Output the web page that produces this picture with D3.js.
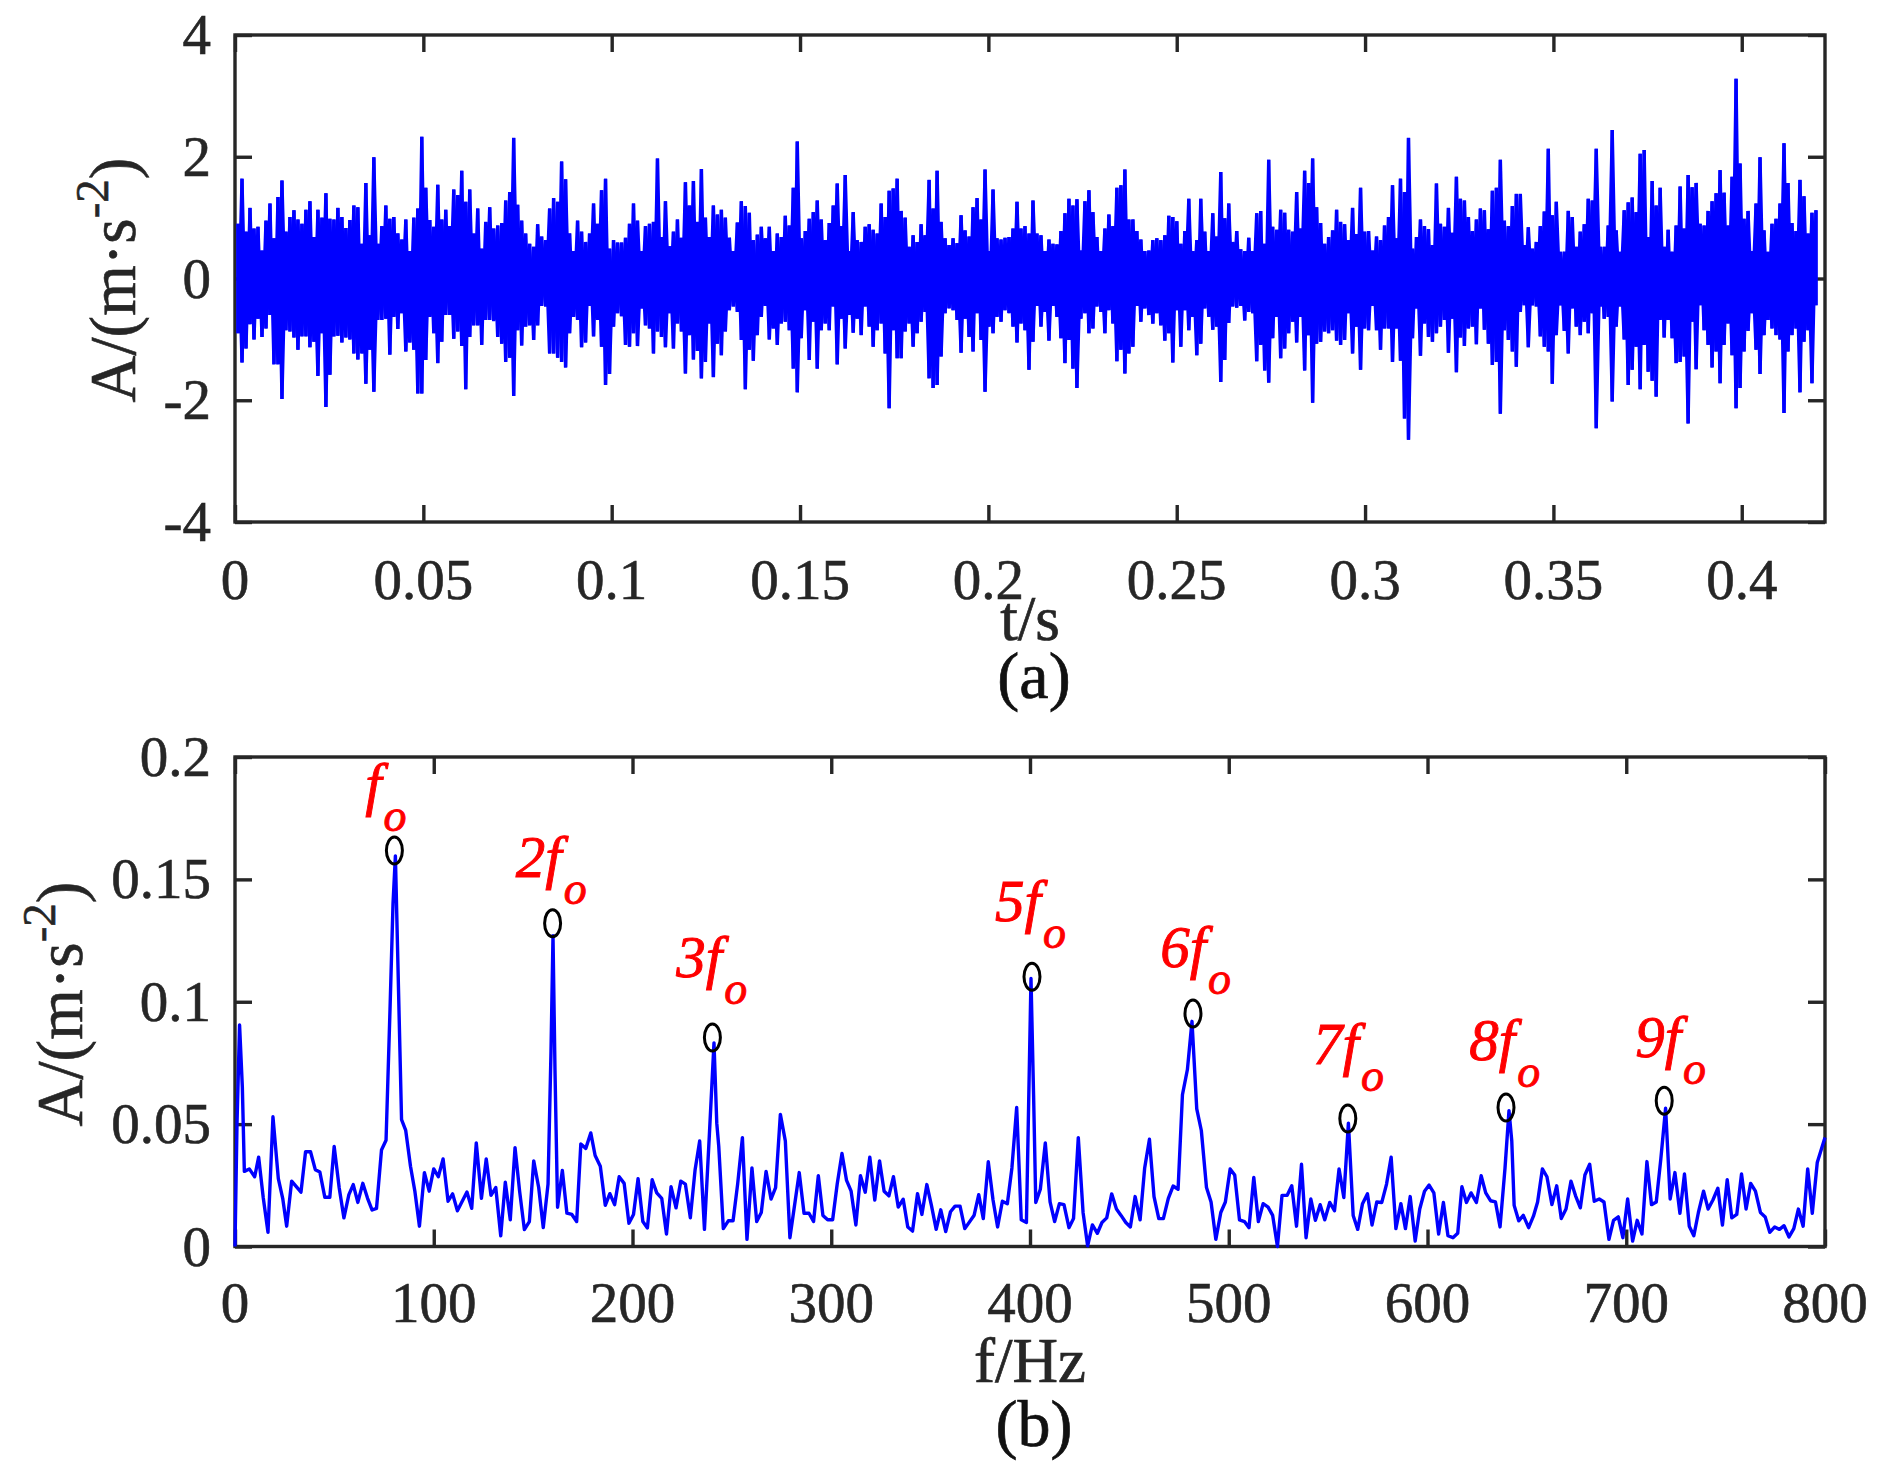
<!DOCTYPE html>
<html>
<head>
<meta charset="utf-8">
<script src="https://cdn.jsdelivr.net/npm/d3@7"></script>
<style>
  body { margin: 0; background: #fff; }
  text { font-family: "Liberation Serif", serif; }
</style>
</head>
<body>
<div class="chart"></div>
<script>
// (a) time signal, peaks at even steps, top and bottom of the trace
const upperPeaks = [
  .9,1.64,.77,1.16,.82,.85,.46,.95,1.23,.66,1.34,1.61,.77,1.01,1.12,.97,.9,1.13,1.27,.68,1.13,1,1.4,.98,.97,1.16,1.01,.83,.96,1.2,1.17,.57,1.57,.71,1.99,.57,.86,1.2,.98,1.01,.74,.64,.97,.45,1,1.15,2.33,1.49,.96,.85,1.54,.97,1.13,.86,1.46,1.37,1.77,1.26,1.46,.74,1.15,.49,.93,1.17,.82,.87,.91,1.28,1.42,2.31,1.21,.95,.74,.57,.52,.89,.69,.63,1.15,1.32,1.26,1.92,1.63,.74,.45,.95,.77,.6,.74,1.23,.9,1.45,1.64,.49,.63,.59,.59,
  .67,.9,1.23,.95,.45,.86,.9,.93,1.97,.68,1.27,.53,.77,.97,.67,1.58,1.2,1.6,.93,1.8,1,.68,1.2,1.05,1.13,1,.67,.45,.92,1.27,1.19,1.08,.63,.72,.85,.66,.85,.45,.74,.68,1.03,.87,1.49,2.25,.66,.78,.98,1.09,1.28,.97,.63,.91,1.2,1.56,.86,1.7,.45,1.09,.63,.6,.85,.89,.8,.74,1.23,1.01,1.44,1.48,1.64,1.11,1,.52,.71,.6,.89,.71,1.62,1.15,1.77,.93,.66,.55,.66,.58,1.04,.79,.69,1.17,1.32,.97,1.79,.45,1.46,.66,.64,.67,.68,.82,1.26,.82,
  .86,.74,1.28,.74,.71,.45,.64,.57,.56,.78,1.07,1.31,1.2,1.3,.46,1.27,1.45,1.09,.68,.45,.82,1.05,.86,1.49,1.53,1.79,.97,.97,.78,.64,.45,.46,.63,.66,.63,.71,1.03,1.01,.94,.57,.78,1.31,.45,.63,1.31,.77,.45,1.07,.69,1.75,.99,1.23,.6,.78,.48,.45,.67,.45,1.07,1.11,.57,1.95,.85,.8,1.13,1.08,.8,.77,1.42,.82,1.77,1.57,1.97,1.17,.91,.57,.68,.79,1.13,.93,.89,.63,1.16,.73,1.49,.77,.78,.46,.69,.63,.87,1.01,1.53,.66,1.64,1.42,2.31,.49,.68,.97,
  .86,.81,.55,1.56,.9,.85,1.16,.75,1.67,1.31,1.28,1.01,.78,.97,1.15,1.12,.81,1.44,1.49,1.95,.95,.86,1.19,1.39,1.39,.55,.84,.49,.6,.86,1.1,2.13,1.04,1.26,.44,.44,1.11,1.01,.52,.77,.89,1.31,1.28,2.13,.52,.52,.87,2.44,.79,.44,1.12,1.25,1.33,1.09,2.05,2.11,.68,1.6,1.2,1.49,.52,.8,.44,.87,1.51,.82,1.7,1.5,1.57,.9,.87,1.11,1.27,1.4,1.78,1.41,.87,1.67,3.28,1.89,.98,1.11,.45,1.23,1.99,.79,.44,.9,.98,1.23,2.22,1.57,.91,.78,1.62,1.35,.74,1.08,1.12
]
const lowerPeaks = [
  -.9,-1.38,-1.15,-.75,-1,-.66,-.96,-.82,-.6,-1.41,-1.41,-1.98,-.85,-.87,-.97,-1.17,-.95,-.95,-1.13,-1.04,-1.6,-.9,-2.11,-1.58,-.95,-.94,-1.05,-.97,-1,-1.23,-1.33,-1.23,-1.73,-1.17,-1.86,-.68,-.68,-.66,-1.25,-.63,-.83,-.57,-1.2,-1.05,-1.17,-1.89,-1.89,-1.34,-.63,-.9,-1.39,-1.04,-.6,-.6,-.99,-.87,-1.11,-1.82,-.96,-.77,-.77,-1.09,-.68,-.68,-.7,-.96,-1.07,-1.37,-1.3,-1.93,-.85,-1.1,-.79,-.77,-1.01,-.77,-.45,-.46,-1.23,-1.23,-1.3,-1.37,-1.46,-.9,-.63,-.68,-1.13,-1.05,-.45,-.95,-.68,-1.12,-1.75,-1.57,-.79,-.57,-.62,
  -1.09,-1.12,-.9,-1.11,-.49,-.77,-.82,-1.23,-.87,-.96,-1.13,-.57,-1.15,-.74,-.87,-1.56,-.93,-1.33,-1.19,-1.64,-1.37,-.74,-1.62,-1.07,-1.26,-.87,-.52,-.46,-.55,-1.01,-1.82,-1.17,-1.35,-.93,-.63,-.45,-1,-.82,-1.09,-.74,-.71,-.85,-1.48,-1.87,-.98,-.52,-1.34,-.71,-1.48,-.85,-.74,-.85,-.46,-1.41,-.66,-1.15,-.6,-.89,-.66,-.93,-.46,-.79,-1.12,-.85,-.74,-1.23,-2.13,-.85,-1.31,-1.31,-.87,-.74,-1.12,-.9,-.71,-.55,-1.64,-1.8,-1.75,-1.28,-.57,-.49,-.52,-.68,-1.22,-.66,-.96,-1.2,-.57,-1.01,-1.86,-.79,-.9,-.63,-.71,-.52,-.57,-.79,-1.05,-.74,
  -.85,-1.5,-1.04,-.45,-.79,-.55,-1.02,-.45,-.63,-.98,-1.39,-1.01,-1.48,-1.8,-.66,-.57,-.9,-.82,-.46,-.55,-.9,-.52,-.74,-1.36,-1.17,-1.56,-1.23,-1.12,-.45,-.71,-.49,-.6,-.74,-.57,-.77,-1.02,-.9,-1.38,-.52,-1.12,-.52,-.85,-.63,-1.26,-1.07,-.49,-.63,-.84,-.79,-1.7,-1.34,-.73,-.46,-.48,-.45,-.69,-.55,-.57,-1.36,-1.09,-1.51,-1.71,-.98,-.63,-1.31,-1.15,-.9,-.71,-1.05,-.63,-1.51,-.93,-2.04,-1.07,-1.04,-.87,-.9,-.85,-1.02,-1.09,-1.01,-.57,-1.23,-.79,-1.5,-.82,-.85,-.45,-.85,-1.17,-.82,-.82,-1.37,-.82,-1.35,-2.3,-2.65,-.98,-.49,-1.27,
  -.74,-.96,-1.04,-.9,-.79,-.68,-1.22,-.66,-1.54,-.97,-1.11,-.82,-.79,-1.08,-.49,-.84,-1.07,-1.42,-1.37,-2.22,-.85,-1.01,-1.2,-1.45,-.55,-.44,-1.13,-.44,-.46,-.95,-1.12,-1.2,-1.73,-.93,-.44,-.86,-1.23,-.49,-.79,-.93,-.71,-.9,-.57,-2.46,-.46,-.66,-.63,-2.02,-.79,-.46,-1,-1.75,-1.5,-1.12,-1.82,-1.09,-1.53,-1.68,-1.94,-.68,-.97,-.68,-.98,-1.39,-1.37,-1.28,-2.38,-.71,-1.49,-.44,-.85,-1.09,-1.46,-1.2,-1.72,-1.09,-.74,-1.26,-2.13,-1.8,-1.2,-.86,-.57,-1.17,-1.57,-.93,-.68,-.82,-.93,-1,-2.21,-1.2,-.93,-.82,-1.87,-1.04,-.85,-1.72,-.44
]
const signalStart = 0.0008
const signalEnd = 0.4197

// (b) spectrum, vertices of the trace
const specFreq = [
  0,1,2.3,3.7,4.7,7.2,9.9,11.9,14.2,16.6,19.1,21.8,24,26,28.5,33.2,35.5,38,40.4,42.7,45.2,47.7,49.9,52.4,54.8,57.3,59.5,61.8,64.3,66.7,69,71.2,73.7,76,78,79.5,80.7,83,83.8,85.9,88.3,90.5,92.8,95.3,97.7,100,102.3,104.7,107.2,109.5,111.9,116.7,119.1,121.4,124,126.4,128.8,131.2,133.7,136,138.5,140.9,143.2,145.6,148.1,150.3,152.8,155.1,157.5,159,160,161,162.3,164.7,167,169.5,171.9,174,176.5,179,181.2,183.8,186.3,188.6,191,193.3,195.8,198.2,200.5,202.8,205.2,207.5,209.9,212.2,214.7,217.1,219.4,221.9,224.3,226.6,229.1,231.5,233.8,236.2,238.7,241,242.4,243.4,245.7,248.2,250.6,252.9,255.3,257.6,260.1,262.5,264.8,267.2,269.7,272,274.4,276.9,279.2,283.9,286.3,288.8,291.1,293.5,295.8,298.2,300.7,303,305.4,307.7,310,312.4,314.7,317.1,319.4,321.9,324.3,326.6,329,331.3,333.7,336.2,338.5,340.9,343.4,345.6,348.1,350.4,352.8,355.1,357.6,360,362.3,364.8,367.2,371.9,374.2,376.5,379,381.4,383.7,386.1,388.6,390.9,393.3,395.6,398.2,400.5,401.8,402.9,405.2,407.7,410.1,412.4,414.8,417.1,419.6,421.9,424.3,426.7,429,431.4,433.9,436.2,438.6,441.1,443.5,445.8,448.2,450.5,452.9,455.4,457.7,460.1,462.4,464.8,467.1,469.6,472,474.5,476.7,479.2,481.5,483.9,486.2,488.8,491.1,493.5,496,498.3,500.7,503,505.4,507.9,510.2,512.6,514.9,517.3,519.8,522.1,524.5,526.8,529.4,531.7,534.1,536.6,538.9,541.3,543.6,546,548.3,550.8,553.2,555.5,557.9,560.2,562.6,564.9,567.3,569.8,572.1,574.5,577,579.4,581.7,584.1,586.6,588.9,591.3,593.8,596.1,598.5,600.8,603.2,605.6,608,610.3,612.8,615.2,617.3,619.6,621.9,624.6,627,629.3,631.7,634.2,636.5,639,641,642.4,643.6,645.9,648.2,650.9,653.3,655.4,657.8,660.1,662.6,665,667.3,669.7,672.2,674.5,676.9,679.2,681.6,683.9,686.4,688.8,691.3,693.6,696,698.3,700.7,703.2,705.5,707.9,710.4,712.7,715.1,717.4,719.8,722.1,724.5,727,729.3,731.7,734,736.3,738.9,741.2,743.6,746.1,748.4,750.8,753.1,755.6,758,760.3,762.6,765,767.5,769.9,772.2,774.7,777.1,779.4,781.9,784.3,786.6,789,791.3,793.6,796.1,800
]
const specAmp = [
  0,.05,.0905,.065,.0307,.0317,.0285,.0365,.02,.0058,.053,.0277,.0197,.0083,.0267,.0222,.0387,.0387,.0314,.0304,.0201,.0201,.0409,.0241,.0117,.0212,.0253,.018,.0258,.0197,.0149,.0156,.0394,.0434,.097,.14,.1596,.0796,.0518,.0474,.0328,.0226,.0083,.0302,.0226,.0317,.0285,.0358,.0185,.0215,.0146,.0223,.0156,.0423,.0197,.0358,.0209,.0241,.0044,.0263,.0109,.0404,.0226,.0069,.0102,.035,.0241,.0077,.0255,.08,.127,.072,.016,.0311,.0136,.0131,.0102,.0419,.0401,.0464,.0372,.0328,.0168,.0216,.0171,.0285,.0258,.0095,.0131,.0277,.0102,.0076,.0273,.0219,.0197,.0051,.0244,.0158,.0267,.0255,.0117,.0314,.0431,.007,.046,.0832,.0504,.0409,.0073,.0105,.0105,.0255,.0445,.0029,.0321,.0102,.0139,.0307,.0194,.0241,.054,.0431,.0036,.0302,.0136,.0136,.0102,.0289,.0127,.0109,.0109,.0255,.038,.027,.0226,.0088,.0289,.0222,.0365,.019,.035,.0226,.0207,.0285,.0161,.0193,.008,.0063,.0216,.0131,.0253,.0168,.007,.015,.0061,.0142,.0165,.0165,.0073,.0128,.0212,.0114,.0346,.019,.008,.0185,.0175,.0321,.0568,.0109,.0098,.1095,.062,.018,.0234,.0423,.0182,.0102,.0175,.0171,.0077,.0114,.0445,.0139,.0003,.0088,.0054,.0098,.0117,.0215,.0153,.0127,.0098,.008,.0204,.0109,.0321,.0438,.0204,.0114,.0114,.0197,.0247,.0234,.062,.0723,.092,.0562,.0474,.0241,.0182,.0029,.0139,.0182,.0317,.0292,.0109,.0102,.0077,.0282,.0102,.0175,.0161,.0127,0,.0209,.0209,.0248,.0083,.0336,.0036,.0194,.0107,.0171,.0109,.018,.0146,.0317,.02,.0504,.0127,.007,.0175,.0215,.0088,.0182,.018,.0255,.0365,.0073,.0175,.0073,.0204,.0022,.0153,.0226,.0251,.0219,.0051,.018,.0044,.0036,.0054,.0244,.018,.0219,.018,.0289,.0219,.0187,.0182,.008,.032,.0555,.0431,.0168,.0105,.0127,.0077,.0124,.0182,.0317,.0285,.0171,.0248,.0114,.0153,.0267,.0207,.0158,.0292,.0336,.0185,.0194,.0182,.0029,.0107,.0121,.0036,.0194,.0022,.0107,.0051,.0347,.0171,.0182,.0358,.0565,.0194,.0302,.0136,.0296,.0083,.0044,.0139,.0226,.0153,.019,.0238,.0088,.0273,.0117,.0131,.0296,.0153,.0258,.0226,.0139,.0121,.0058,.008,.007,.0085,.0039,.0073,.0153,.0083,.0317,.0136,.0343,.0445
]

// circled harmonics and their red labels
const harmonicFreq = [80.2, 159.8, 240.2, 401, 482, 559.9, 639.5, 719.1]
const harmonicAmp = [.1618, .1321, .0854, .1102, .0952, .0523, .0568, .0596]
const harmonicOrder = ["", "2", "3", "5", "6", "7", "8", "9"]
const labelFreq = [65.5, 141.3, 222, 382.4, 465.5, 542.4, 621, 704.5]
const labelAmp = [.181, .151, .11, .133, .114, .0747, .0763, .0776]

const timeTicks = [0, .05, .1, .15, .2, .25, .3, .35, .4]
const timeTickLabels = ["0", "0.05", "0.1", "0.15", "0.2", "0.25", "0.3", "0.35", "0.4"]
const accelTicks = [-4, -2, 0, 2, 4]
const freqTicks = [0, 100, 200, 300, 400, 500, 600, 700, 800]
const ampTicks = [0, .05, .1, .15, .2]
const ampTickLabels = ["0", "0.05", "0.1", "0.15", "0.2"]

const colors = {
  axis: "#262626",
  trace: "#0000ff",
  mark: "#000000",
  note: "#ff0000"
}

const chartDimensions = { width: 1881, height: 1484, left: 235, right: 1825 }
const topPlot = { top: 35, bottom: 522 }
const bottomPlot = { top: 757, bottom: 1246.5 }

const svg = d3.select(".chart").append("svg")
    .attr("width", chartDimensions.width)
    .attr("height", chartDimensions.height)
    .style("display", "block")

const xTime = d3.scaleLinear().domain([0, 0.4221]).range([chartDimensions.left, chartDimensions.right])
const yAccel = d3.scaleLinear().domain([-4, 4]).range([topPlot.bottom, topPlot.top])
const xFreq = d3.scaleLinear().domain([0, 800]).range([chartDimensions.left, chartDimensions.right])
const yAmp = d3.scaleLinear().domain([0, 0.2]).range([bottomPlot.bottom, bottomPlot.top])

// box, ticks pointing inward on all four sides, labels on left and bottom
const drawAxes = (x, y, plot, xTicks, xLabels, yTicks, yLabels, xLabelY) => {
  const g = svg.append("g")
  g.append("rect")
      .attr("x", chartDimensions.left)
      .attr("y", plot.top)
      .attr("width", chartDimensions.right - chartDimensions.left)
      .attr("height", plot.bottom - plot.top)
      .attr("fill", "none")
      .attr("stroke", colors.axis)
      .attr("stroke-width", 3.4)

  const tickLen = 17
  const sides = [
    { axis: d3.axisBottom(x).tickValues(xTicks).tickSize(-tickLen), at: [0, plot.bottom] },
    { axis: d3.axisTop(x).tickValues(xTicks).tickSize(-tickLen), at: [0, plot.top] },
    { axis: d3.axisLeft(y).tickValues(yTicks).tickSize(-tickLen), at: [chartDimensions.left, 0] },
    { axis: d3.axisRight(y).tickValues(yTicks).tickSize(-tickLen), at: [chartDimensions.right, 0] }
  ]
  sides.forEach(s => {
    g.append("g")
        .attr("transform", `translate(${s.at[0]},${s.at[1]})`)
        .call(s.axis.tickFormat(""))
        .call(a => a.select(".domain").remove())
        .call(a => a.selectAll(".tick line")
          .attr("stroke", colors.axis)
          .attr("stroke-width", 3.4))
  })

  g.selectAll(".x-label")
    .data(xTicks)
    .join("text")
      .attr("class", "x-label")
      .attr("x", d => x(d))
      .attr("y", xLabelY)
      .attr("text-anchor", "middle")
      .attr("font-size", 57)
      .attr("fill", colors.axis)
      .attr("stroke", colors.axis)
      .attr("stroke-width", 0.6)
      .text((d, i) => xLabels[i])

  g.selectAll(".y-label")
    .data(yTicks)
    .join("text")
      .attr("class", "y-label")
      .attr("x", chartDimensions.left - 24)
      .attr("y", d => y(d) + 19)
      .attr("text-anchor", "end")
      .attr("font-size", 57)
      .attr("fill", colors.axis)
      .attr("stroke", colors.axis)
      .attr("stroke-width", 0.6)
      .text((d, i) => yLabels[i])
}

drawAxes(xTime, yAccel, topPlot, timeTicks, timeTickLabels, accelTicks, accelTicks.map(String), 599)
drawAxes(xFreq, yAmp, bottomPlot, freqTicks, freqTicks.map(String), ampTicks, ampTickLabels, 1322)

// trace (a): zigzag through the top and bottom peaks, run both ways so the middle band closes up
const tStep = (signalEnd - signalStart) / (upperPeaks.length - 1)
const signalUpFirst = upperPeaks.flatMap((u, i) => [
  { t: signalStart + i * tStep, v: u },
  { t: signalStart + i * tStep, v: lowerPeaks[i] }
])
const signalDownFirst = upperPeaks.flatMap((u, i) => [
  { t: signalStart + i * tStep, v: lowerPeaks[i] },
  { t: signalStart + i * tStep, v: u }
])
const signalLine = d3.line().x(d => xTime(d.t)).y(d => yAccel(d.v))

svg.selectAll(".signal")
  .data([signalUpFirst, signalDownFirst])
  .join("path")
    .attr("class", "signal")
    .attr("d", signalLine)
    .attr("fill", "none")
    .attr("stroke", colors.trace)
    .attr("stroke-width", 3.3)
    .attr("stroke-linejoin", "bevel")

// trace (b)
const spectrum = specFreq.map((f, i) => ({ f, a: specAmp[i] }))
svg.append("path")
    .attr("d", d3.line().x(d => xFreq(d.f)).y(d => yAmp(d.a))(spectrum))
    .attr("fill", "none")
    .attr("stroke", colors.trace)
    .attr("stroke-width", 3.4)
    .attr("stroke-linejoin", "round")

svg.selectAll(".harmonic")
  .data(harmonicFreq)
  .join("ellipse")
    .attr("class", "harmonic")
    .attr("cx", d => xFreq(d))
    .attr("cy", (d, i) => yAmp(harmonicAmp[i]))
    .attr("rx", 8)
    .attr("ry", 13.5)
    .attr("fill", "none")
    .attr("stroke", colors.mark)
    .attr("stroke-width", 3)

const notes = svg.selectAll(".note")
  .data(labelFreq)
  .join("text")
    .attr("class", "note")
    .attr("x", d => xFreq(d))
    .attr("y", (d, i) => yAmp(labelAmp[i]))
    .attr("font-size", 59)
    .attr("font-style", "italic")
    .attr("fill", colors.note)
    .attr("stroke", colors.note)
    .attr("stroke-width", 0.9)
notes.append("tspan").text((d, i) => harmonicOrder[i] + "f")
notes.append("tspan")
    .attr("dx", 2)
    .attr("dy", 27)
    .attr("font-size", 46)
    .text("o")

// axis titles
const yTitle = (x, y) => {
  const t = svg.append("text")
      .attr("transform", `translate(${x},${y}) rotate(-90)`)
      .attr("text-anchor", "middle")
      .attr("font-size", 65)
      .attr("fill", colors.axis)
      .attr("stroke", colors.axis)
      .attr("stroke-width", 0.6)
  t.append("tspan").text("A/(m·s")
  t.append("tspan").attr("dy", -27).attr("font-size", 47).text("-2")
  t.append("tspan").attr("dy", 27).text(")")
}
yTitle(135, 280)
yTitle(82, 1004)

const caption = (x, y, label, size, fill) => svg.append("text")
    .attr("x", x)
    .attr("y", y)
    .attr("text-anchor", "middle")
    .attr("font-size", size)
    .attr("fill", fill)
    .attr("stroke", fill)
    .attr("stroke-width", 0.7)
    .text(label)

caption(1030, 640, "t/s", 63, colors.axis)
caption(1034, 698, "(a)", 66, "#111111")
caption(1030, 1382, "f/Hz", 63, colors.axis)
caption(1034, 1446, "(b)", 66, "#111111")
</script>
</body>
</html>
